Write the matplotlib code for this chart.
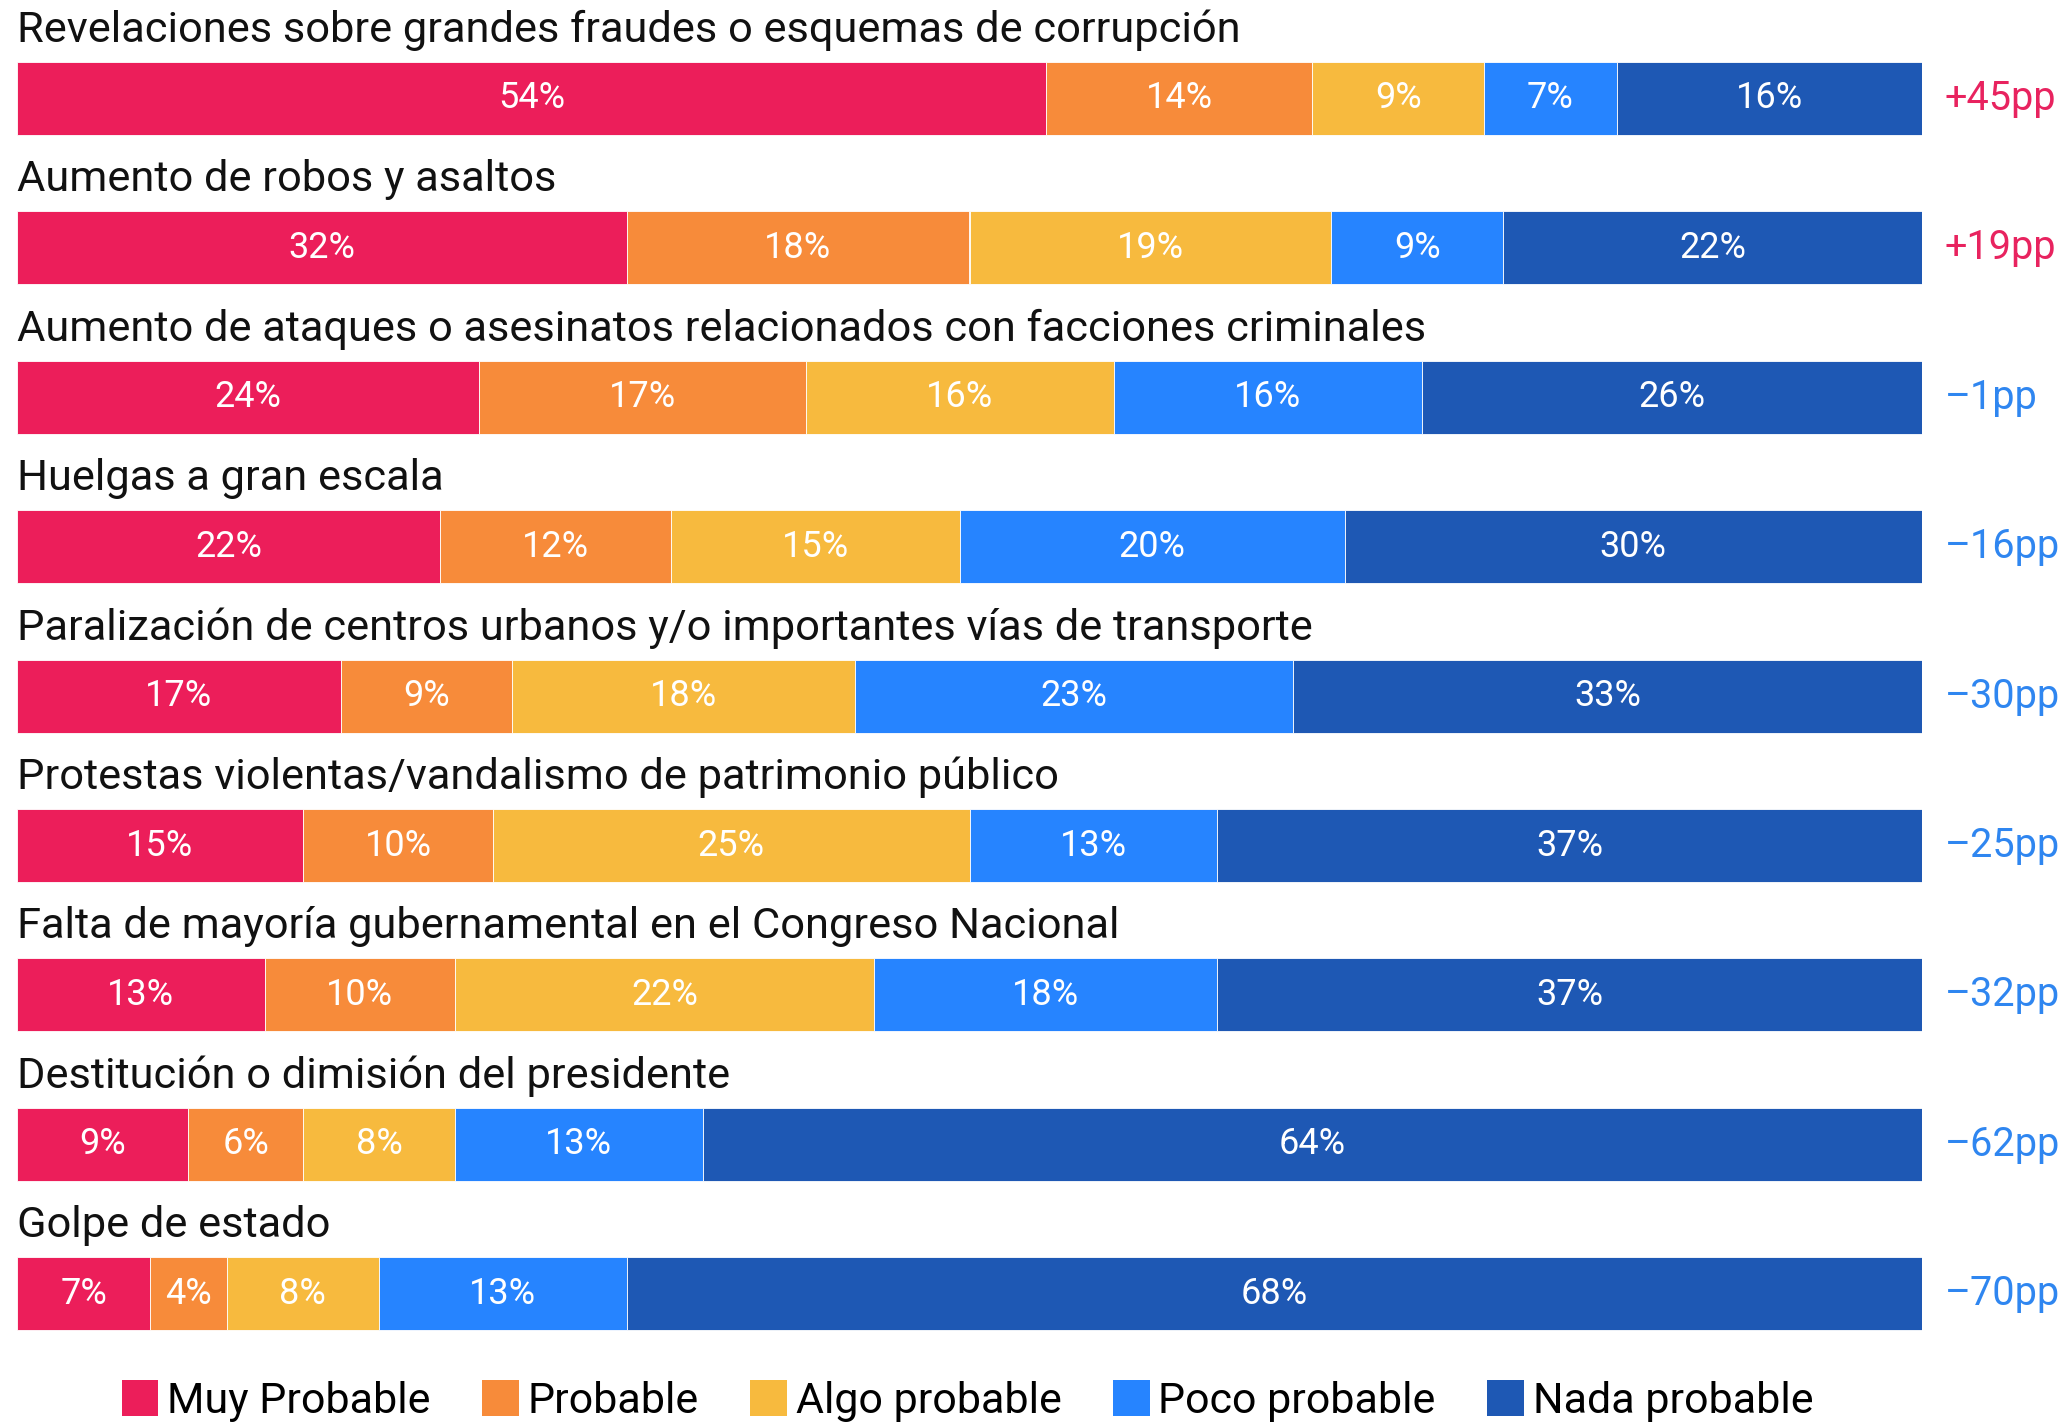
import matplotlib
matplotlib.use("Agg")
import matplotlib.pyplot as plt
from matplotlib.patches import Patch
import numpy as np

categories = [
    "Revelaciones sobre grandes fraudes o esquemas de corrupción",
    "Aumento de robos y asaltos",
    "Aumento de ataques o asesinatos relacionados con facciones criminales",
    "Huelgas a gran escala",
    "Paralización de centros urbanos y/o importantes vías de transporte",
    "Protestas violentas/vandalismo de patrimonio público",
    "Falta de mayoría gubernamental en el Congreso Nacional",
    "Destitución o dimisión del presidente",
    "Golpe de estado",
]
series_names = ["Muy Probable", "Probable", "Algo probable", "Poco probable", "Nada probable"]
muy_probable = [54, 32, 24, 22, 17, 15, 13, 9, 7]
probable = [14, 18, 17, 12, 9, 10, 10, 6, 4]
algo_probable = [9, 19, 16, 15, 18, 25, 22, 8, 8]
poco_probable = [7, 9, 16, 20, 23, 13, 18, 13, 13]
nada_probable = [16, 22, 26, 30, 33, 37, 37, 64, 68]
net_pp = [45, 19, -1, -16, -30, -25, -32, -62, -70]

colors = ["#EC1E5A", "#F78B3A", "#F7BA3E", "#2684FF", "#1E58B4"]
pos_color = "#E8235F"
neg_color = "#2F86F0"

plt.rcParams['font.family'] = ['Roboto', 'DejaVu Sans']

W, H = 2063, 1426
fig = plt.figure(figsize=(W / 100, H / 100), dpi=100)
fig.patch.set_facecolor("white")

left_px, right_px = 17, 1922
pitch = 149.4
first_center = 98.5
ax = fig.add_axes([left_px / W, 0, (right_px - left_px) / W, 1])
ax.set_xlim(0, 1)
ax.set_ylim((H - first_center) / pitch, -first_center / pitch)
ax.axis("off")

data = np.array([muy_probable, probable, algo_probable, poco_probable, nada_probable], dtype=float)
totals = data.sum(axis=0)
frac = data / totals
n = len(categories)
y = np.arange(n)
bar_h = 73 / pitch

cum = np.zeros(n)
for s in range(len(series_names)):
    ax.barh(y, frac[s], left=cum, height=bar_h, color=colors[s],
            edgecolor="white", linewidth=0.6)
    for i in range(n):
        ax.text(cum[i] + frac[s][i] / 2, y[i], f"{int(data[s][i])}%",
                ha="center", va="center", color="white", fontsize=26)
    cum += frac[s]

for i in range(n):
    ax.text(0, y[i] - 0.378, categories[i], ha="left", va="baseline",
            fontsize=31.2, color="#111111")
    v = net_pp[i]
    lab = f"+{v}pp" if v > 0 else f"\u2013{abs(v)}pp"
    ax.text(1.012, y[i], lab, ha="left", va="center", fontsize=28.5,
            color=pos_color if v > 0 else neg_color, clip_on=False)

handles = [Patch(facecolor=c, edgecolor="none") for c in colors]
fig.legend(handles, series_names, loc="center", bbox_to_anchor=(0.469, 1 - 1401 / H),
           ncol=5, frameon=False, fontsize=31, handlelength=0.85, handleheight=0.9,
           handletextpad=0.2, columnspacing=1.2, borderaxespad=0)

fig.savefig("out.png", dpi=100, facecolor="white")
